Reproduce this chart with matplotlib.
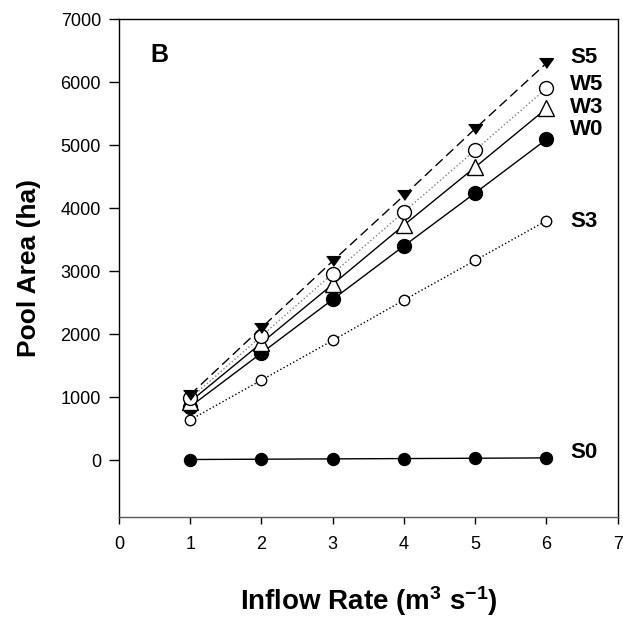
import numpy as np
import matplotlib
matplotlib.use("Agg")
from matplotlib import pyplot as plt

plt.rcParams['font.family'] = ['Liberation Sans', 'DejaVu Sans']
plt.rcParams['mathtext.fontset'] = 'custom'
plt.rcParams['mathtext.rm'] = 'Liberation Sans:bold'
plt.rcParams['mathtext.bf'] = 'Liberation Sans:bold'
plt.rcParams['mathtext.default'] = 'bf'
plt.rcParams['axes.unicode_minus'] = False

inflow = [1, 2, 3, 4, 5, 6]
s5 = [1040, 2100, 3160, 4200, 5260, 6300]
w5 = [980, 1970, 2960, 3940, 4920, 5900]
w3 = [930, 1860, 2790, 3730, 4650, 5580]
w0 = [850, 1700, 2550, 3400, 4240, 5090]
s3 = [640, 1270, 1900, 2540, 3170, 3800]
s0 = [10, 15, 20, 25, 30, 36]

labels = ["S5", "W5", "W3", "W0", "S3", "S0"]
label_y = [6300, 5873, 5508, 5159, 3698, 32]

fig = plt.figure(figsize=(6.23, 6.19), dpi=100)
ax = fig.add_axes([0.191, 0.165, 0.8005, 0.8043])

flat_tri = [(-1, 0.7), (1, 0.7), (0, -0.7)]

ax.plot(inflow, s0, '-', color='black', lw=1, marker='o', ms=8.6, mfc='black', mec='black')
ax.plot(inflow, s3, ':', color='black', lw=1, marker='o', ms=7.5, mfc='white', mec='black')
ax.plot(inflow, w0, '-', color='black', lw=1, marker='o', ms=10, mfc='black', mec='black')
ax.plot(inflow, w3, '-', color='black', lw=1, marker='^', ms=11, mfc='white', mec='black')
ax.plot(inflow, w5, ':', color='gray', lw=1, marker='o', ms=10, mfc='white', mec='black')
ax.plot(inflow, s5, '--', color='black', lw=1, dashes=(7, 3.5), marker=flat_tri, ms=10,
        mfc='black', mec='black')

for lab, ly in zip(labels, label_y):
    ax.text(6.33, ly, lab, fontsize=16, fontweight='bold', va='baseline', ha='left')

ax.text(0.435, 6322, "B", fontsize=18, fontweight='bold', va='baseline', ha='left')

ax.set_xlim(0, 7)
ax.set_ylim(-900, 7000)
ax.set_xticks(range(0, 8))
ax.set_yticks(range(0, 7001, 1000))
ax.tick_params(axis='y', direction='out', length=7, width=1, labelsize=13, pad=6)
ax.tick_params(axis='x', direction='out', length=5, width=1, labelsize=13, pad=9)
for sp in ax.spines.values():
    sp.set_linewidth(1)
ax.spines['bottom'].set_color('0.35')

ax.set_xlabel("Inflow Rate (m$^{3}$ s$^{-1}$)", fontsize=20, fontweight='bold', labelpad=22)
ax.set_ylabel("Pool Area (ha)", fontsize=19, fontweight='bold', labelpad=14)

fig.savefig("out.png", dpi=100)
